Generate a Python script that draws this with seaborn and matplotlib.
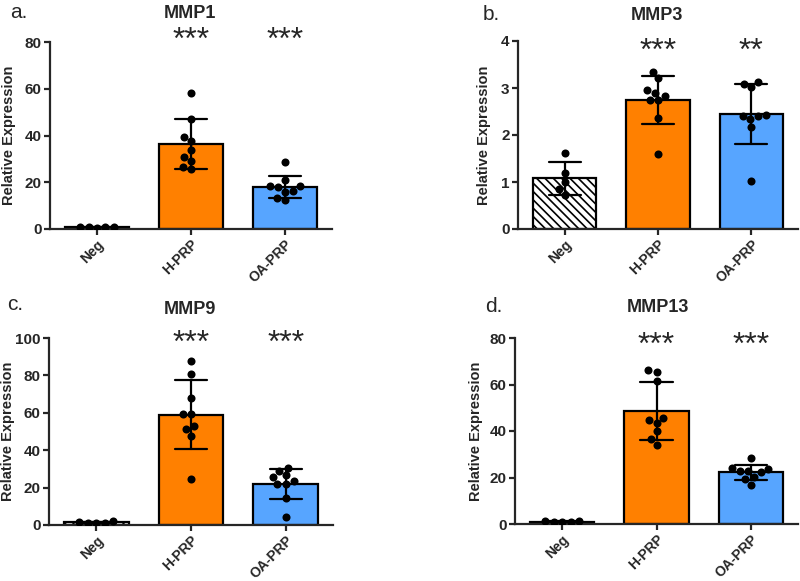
import matplotlib
matplotlib.use("Agg")
import matplotlib.pyplot as plt
import matplotlib.transforms as mtransforms
import seaborn as sns
import pandas as pd

sns.set_style("ticks")
plt.rcParams["font.family"] = ["Liberation Sans", "DejaVu Sans"]
plt.rcParams["hatch.linewidth"] = 1.2

groups = ["Neg", "H-PRP", "OA-PRP"]
bar_colors = ["white", "#FF8000", "#57A5FF"]

# MMP1
mmp1_neg = [0.5, 0.9, 1.0, 0.8, 1.0]
mmp1_h = [58.0, 47.0, 37.5, 39.5, 34.0, 31.0, 29.0, 25.5, 26.5]
mmp1_oa = [28.5, 18.4, 16.2, 18.4, 20.9, 18.0, 12.4, 13.4, 16.0]

# MMP3
mmp3_neg = [1.62, 1.2, 1.0, 0.85, 0.72]
mmp3_h = [3.35, 3.21, 2.9, 2.84, 2.95, 2.74, 2.74, 2.36, 1.6]
mmp3_oa = [3.12, 3.09, 3.02, 2.41, 2.43, 2.41, 2.34, 2.17, 1.02]

# MMP9
mmp9_neg = [1.0, 2.0, 1.0, 1.5, 1.2]
mmp9_h = [87.6, 80.9, 68.1, 59.3, 59.3, 53.1, 51.3, 47.8, 24.4]
mmp9_oa = [30.6, 28.7, 26.5, 25.7, 23.5, 22.1, 22.1, 14.5, 4.1]

# MMP13
mmp13_neg = [0.7, 1.2, 0.9, 1.0, 1.1]
mmp13_h = [66.2, 65.5, 61.7, 45.7, 43.5, 44.7, 40.0, 36.5, 33.9]
mmp13_oa = [28.2, 23.7, 24.0, 23.0, 22.3, 22.6, 20.1, 19.4, 16.9]

# letter, title, data, ymax, ystep, stars
panels = [
    ("a.", "MMP1", [mmp1_neg, mmp1_h, mmp1_oa], 80, 20, ["***", "***"]),
    ("b.", "MMP3", [mmp3_neg, mmp3_h, mmp3_oa], 4, 1, ["***", "**"]),
    ("c.", "MMP9", [mmp9_neg, mmp9_h, mmp9_oa], 100, 20, ["***", "***"]),
    ("d.", "MMP13", [mmp13_neg, mmp13_h, mmp13_oa], 80, 20, ["***", "***"]),
]

# pixel layout: left, right, top, bottom of axes / label positions
boxes = [(50, 332, 42, 229), (518, 798, 41, 229), (49, 333, 338, 525), (515, 798, 338, 524)]
letter_pos = [(10, 13), (483, 15), (7, 305), (485, 307)]
title_pos = [(190, 13), (657, 15), (190, 309), (658, 308)]
star_y = [1.005, 0.94, 0.97, 0.955]
ylabel_x = [-0.12, -0.095, -0.118, -0.112]

W, H = 800, 581
fig = plt.figure(figsize=(8, 5.81), dpi=100)

for i, (letter, title, vals, ymax, ystep, stars) in enumerate(panels):
    l, r, t, b = boxes[i]
    ax = fig.add_axes([l / W, 1 - b / H, (r - l) / W, (b - t) / H])

    rows = []
    for g, v in zip(groups, vals):
        for x in v:
            rows.append({"group": g, "value": x})
    df = pd.DataFrame(rows)

    sns.barplot(data=df, x="group", y="value", hue="group", order=groups, hue_order=groups,
                palette=bar_colors, saturation=1, errorbar="sd", capsize=0.34, width=0.68,
                edgecolor="black", linewidth=1.6,
                err_kws={"color": "black", "linewidth": 1.6}, legend=False, ax=ax)
    ax.patches[0].set_hatch("\\" * 4)

    sns.swarmplot(data=df, x="group", y="value", order=groups, color="black",
                  size=5.8, ax=ax, zorder=4)

    ax.set_xlim(-0.5, 2.5)
    ax.set_ylim(0, ymax)
    ax.set_yticks(range(0, ymax + 1, ystep))
    ax.set_xticks(range(3))
    ax.set_xticklabels(groups, rotation=45, ha="right", rotation_mode="anchor",
                       fontweight="bold", fontsize=10)
    for lab in ax.get_yticklabels():
        lab.set_fontweight("bold")
        lab.set_fontsize(11)
    ax.set_xlabel("")
    ax.set_ylabel("Relative Expression", fontsize=10.5, fontweight="bold")
    ax.yaxis.set_label_coords(ylabel_x[i], 0.5)

    sns.despine(ax=ax)
    for s in ["left", "bottom"]:
        ax.spines[s].set_linewidth(1.6)
    ax.tick_params(width=1.6, length=4, pad=2)

    trans = mtransforms.blended_transform_factory(ax.transData, ax.transAxes)
    for k, s in enumerate(stars):
        ax.text(k + 1, star_y[i], s, transform=trans, ha="center", va="center",
                fontsize=23, clip_on=False)

    fig.text(letter_pos[i][0] / W, 1 - letter_pos[i][1] / H, letter,
             ha="left", va="center", fontsize=15)
    fig.text(title_pos[i][0] / W, 1 - title_pos[i][1] / H, title,
             ha="center", va="center", fontsize=13, fontweight="bold")

fig.savefig("out.png", dpi=100)
